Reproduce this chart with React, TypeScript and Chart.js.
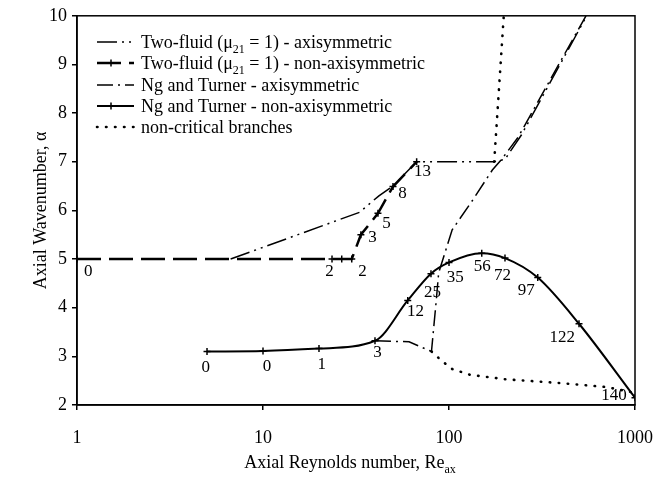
import React, { useEffect, useRef } from "react";
import { Chart, registerables } from "chart.js";
Chart.register(...registerables);

const FONT = '"Liberation Serif", "Times New Roman", serif';

// Two-fluid (mu21 = 1) - axisymmetric
const tfAxiRe = [6.7, 33, 42, 50, 67, 175, 200, 245, 550];
const tfAxiAlpha = [5, 5.96, 6.3, 6.5, 7, 7, 7.05, 7.55, 10];

// Two-fluid (mu21 = 1) - non-axisymmetric
const tfNonRe = [1, 23.5, 26.5, 30, 33.6, 41.5, 50, 67];
const tfNonAlpha = [5, 5, 5, 5, 5.5, 5.94, 6.49, 7];

// Ng and Turner - axisymmetric
const ntAxiRe = [40, 61, 80.5, 85.5, 88, 104, 134, 171, 190, 235, 545];
const ntAxiAlpha = [3.32, 3.3, 3.1, 4.17, 4.72, 5.6, 6.21, 6.83, 7.03, 7.5, 10];

// Ng and Turner - non-axisymmetric
const ntNonRe = [5, 10, 20, 40, 60, 80, 100, 150, 200, 300, 500, 1000];
const ntNonAlpha = [3.1, 3.11, 3.16, 3.32, 4.15, 4.7, 4.93, 5.12, 5.02, 4.62, 3.67, 2.15];

// non-critical branches
const ncUpperRe = [175, 197];
const ncUpperAlpha = [7, 10];
const ncLowerRe = [80.5, 92, 104, 130, 200, 400, 700, 1000];
const ncLowerAlpha = [3.1, 2.9, 2.74, 2.62, 2.53, 2.45, 2.37, 2.25];

// point annotations (azimuthal mode numbers)
const noteText = ["0", "2", "2", "3", "5", "8", "13", "0", "0", "1", "3", "12", "25", "35", "56", "72", "97", "122", "140"];
const noteRe = [1.15, 22.8, 34.3, 38.8, 46.1, 56.2, 72, 4.93, 10.5, 20.7, 41.3, 66, 81.5, 108, 151, 194, 260, 406, 772];
const noteAlpha = [4.74, 4.74, 4.74, 5.44, 5.74, 6.34, 6.79, 2.76, 2.8, 2.84, 3.08, 3.92, 4.31, 4.62, 4.84, 4.66, 4.35, 3.39, 2.2];

const xTicks = [1, 10, 100, 1000];
const legendLabels = [
  "Two-fluid (μ_{21} = 1) - axisymmetric",
  "Two-fluid (μ_{21} = 1) - non-axisymmetric",
  "Ng and Turner - axisymmetric",
  "Ng and Turner - non-axisymmetric",
  "non-critical branches",
];
const xTitle = "Axial Reynolds number, Re_{ax}";
const yTitle = "Axial Wavenumber, α";

const STYLES = [
  { dash: [20, 5, 2, 5, 2, 5], width: 1.5, marker: false, cap: "butt" },
  { dash: [24, 8], width: 2.5, marker: true, cap: "butt" },
  { dash: [16, 5, 2, 5], width: 1.5, marker: false, cap: "butt" },
  { dash: [], width: 2, marker: true, cap: "butt" },
  { dash: [0.5, 8.5], width: 2.6, marker: false, cap: "round" },
];

function pts(xs: number[], ys: number[]) {
  return xs.map((x, i) => ({ x, y: ys[i] }));
}

function parseRich(s: string) {
  const parts: { t: string; sub: boolean }[] = [];
  const re = /_\{([^}]*)\}/g;
  let last = 0;
  let m: RegExpExecArray | null;
  while ((m = re.exec(s))) {
    if (m.index > last) parts.push({ t: s.slice(last, m.index), sub: false });
    parts.push({ t: m[1], sub: true });
    last = m.index + m[0].length;
  }
  if (last < s.length) parts.push({ t: s.slice(last), sub: false });
  return parts;
}

function drawRich(ctx: CanvasRenderingContext2D, s: string, x: number, y: number, size: number, align: "left" | "center") {
  const parts = parseRich(s);
  const subSize = Math.round(size * 0.68);
  let total = 0;
  const widths = parts.map((p) => {
    ctx.font = `${p.sub ? subSize : size}px ${FONT}`;
    const w = ctx.measureText(p.t).width;
    total += w;
    return w;
  });
  let cx = align === "center" ? x - total / 2 : x;
  ctx.textAlign = "left";
  ctx.textBaseline = "alphabetic";
  parts.forEach((p, i) => {
    ctx.font = `${p.sub ? subSize : size}px ${FONT}`;
    ctx.fillText(p.t, cx, y + (p.sub ? size * 0.3 : 0));
    cx += widths[i];
  });
}

function drawCross(ctx: CanvasRenderingContext2D, x: number, y: number, r: number) {
  ctx.beginPath();
  ctx.moveTo(x - r, y);
  ctx.lineTo(x + r, y);
  ctx.moveTo(x, y - r);
  ctx.lineTo(x, y + r);
  ctx.stroke();
}

const decorPlugin = {
  id: "decor",
  afterDatasetsDraw(chart: any) {
    const ctx: CanvasRenderingContext2D = chart.ctx;
    const xs = chart.scales.x;
    const ys = chart.scales.y;
    const a = chart.chartArea;
    ctx.save();
    // frame
    ctx.strokeStyle = "#000";
    ctx.lineWidth = 1.5;
    ctx.setLineDash([]);
    ctx.strokeRect(a.left, a.top, a.right - a.left, a.bottom - a.top);
    // annotations
    ctx.fillStyle = "#000";
    ctx.font = `17px ${FONT}`;
    ctx.textAlign = "center";
    ctx.textBaseline = "middle";
    noteText.forEach((t, i) => {
      ctx.fillText(t, xs.getPixelForValue(noteRe[i]), ys.getPixelForValue(noteAlpha[i]));
    });
    // legend
    const rowY = [42, 63, 85, 106, 127];
    legendLabels.forEach((lab, i) => {
      const st = STYLES[i];
      const y = rowY[i];
      ctx.strokeStyle = "#000";
      ctx.lineWidth = st.width;
      ctx.lineCap = st.cap as CanvasLineCap;
      ctx.setLineDash(st.dash);
      ctx.beginPath();
      ctx.moveTo(97, y);
      ctx.lineTo(134, y);
      ctx.stroke();
      ctx.setLineDash([]);
      ctx.lineCap = "butt";
      if (st.marker) {
        ctx.lineWidth = 1.5;
        drawCross(ctx, 111, y, 3.5);
      }
      ctx.fillStyle = "#000";
      drawRich(ctx, lab, 141, y + 6, 18, "left");
    });
    // axis titles
    drawRich(ctx, xTitle, 350, 468, 18, "center");
    ctx.save();
    ctx.translate(40, (a.top + a.bottom) / 2);
    ctx.rotate(-Math.PI / 2);
    drawRich(ctx, yTitle, 0, 6, 18, "center");
    ctx.restore();
    ctx.restore();
  },
};

export default function App() {
  const ref = useRef<HTMLCanvasElement | null>(null);
  useEffect(() => {
    if (!ref.current) return;
    const mk = (data: any[], i: number, markers: boolean) => ({
      data,
      borderColor: "#000",
      backgroundColor: "#000",
      borderWidth: STYLES[i].width,
      borderDash: STYLES[i].dash,
      borderCapStyle: STYLES[i].cap,
      pointStyle: "cross",
      pointRadius: markers ? 3.5 : 0,
      pointBorderWidth: 1.5,
      pointBorderColor: "#000",
      pointHoverRadius: 0,
      fill: false,
      tension: 0,
    });
    const ntNon = { ...mk(pts(ntNonRe, ntNonAlpha), 3, true), cubicInterpolationMode: "monotone" };
    const chart = new Chart(ref.current, {
      type: "line",
      data: {
        datasets: [
          mk(pts(tfAxiRe, tfAxiAlpha), 0, false),
          mk(pts(tfNonRe, tfNonAlpha), 1, true),
          mk(pts(ntAxiRe, ntAxiAlpha), 2, false),
          ntNon,
          mk(pts(ncUpperRe, ncUpperAlpha), 4, false),
          mk(pts(ncLowerRe, ncLowerAlpha), 4, false),
        ] as any,
      },
      options: {
        animation: false,
        responsive: false,
        devicePixelRatio: 1,
        layout: { padding: { left: 0, top: 15, right: 34, bottom: 0 } },
        plugins: { legend: { display: false }, tooltip: { enabled: false } },
        scales: {
          x: {
            type: "logarithmic",
            min: 1,
            max: 1000,
            afterBuildTicks: (s: any) => {
              s.ticks = xTicks.map((v) => ({ value: v, major: true }));
            },
            afterFit: (s: any) => {
              s.height = 78;
            },
            ticks: {
              autoSkip: false,
              maxRotation: 0,
              padding: 17,
              color: "#000",
              font: { family: FONT, size: 18 },
              callback: (v: any) => String(v),
            },
            grid: { display: true, drawOnChartArea: false, drawTicks: true, tickLength: 5, color: "#000", lineWidth: 1.5 },
            border: { color: "#000", width: 1.5 },
          },
          y: {
            type: "linear",
            min: 2,
            max: 10,
            afterFit: (s: any) => {
              s.width = 77;
            },
            ticks: {
              stepSize: 1,
              padding: 5,
              color: "#000",
              font: { family: FONT, size: 18 },
            },
            grid: { display: true, drawOnChartArea: false, drawTicks: true, tickLength: 5, color: "#000", lineWidth: 1.5 },
            border: { color: "#000", width: 1.5 },
          },
        },
      } as any,
      plugins: [decorPlugin],
    });
    return () => chart.destroy();
  }, []);
  return (
    <div style={{ position: "absolute", left: 0, top: 0, width: 670, height: 483, background: "#fff" }}>
      <canvas ref={ref} width={670} height={483} style={{ width: 670, height: 483, display: "block" }} />
    </div>
  );
}
